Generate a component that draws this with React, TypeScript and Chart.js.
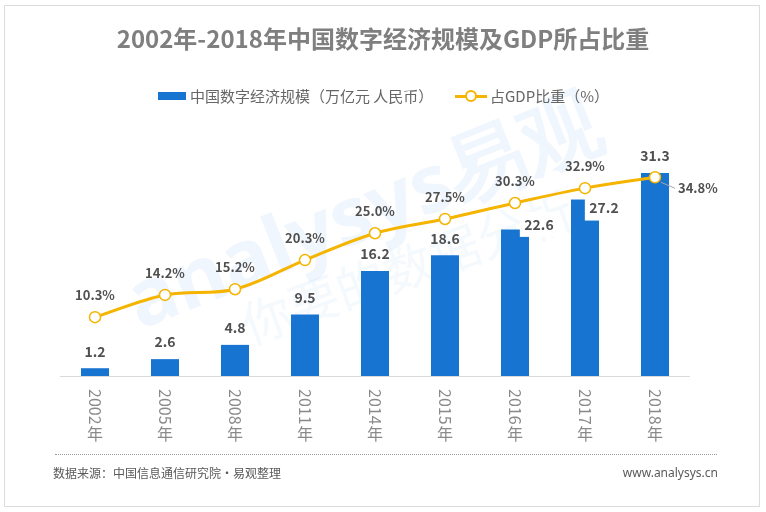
import React, { useEffect, useRef } from "react";
import { Chart, registerables } from "chart.js";

Chart.register(...registerables);

const categories = ["2002年", "2005年", "2008年", "2011年", "2014年", "2015年", "2016年", "2017年", "2018年"];
const digitalEconomy = [1.2, 2.6, 4.8, 9.5, 16.2, 18.6, 22.6, 27.2, 31.3];
const gdpShare = [10.3, 14.2, 15.2, 20.3, 25.0, 27.5, 30.3, 32.9, 34.8];

const barSeriesName = "中国数字经济规模（万亿元 人民币）";
const lineSeriesName = "占GDP比重（%）";
const titleText = "2002年-2018年中国数字经济规模及GDP所占比重";
const sourceText = "数据来源：中国信息通信研究院·易观整理";
const siteText = "www.analysys.cn";

const FONT = '"Noto Sans CJK SC", "Noto Sans", sans-serif';
const BAR_COLOR = "#1874D1";
const LINE_COLOR = "#F5B400";
const LABEL_COLOR = "#505050";

// label offsets for bars whose labels sit beside the bar top (white box)
const barLabelShift: Record<number, { dx: number; dy: number }> = {
  6: { dx: 24, dy: -5 },
  7: { dx: 19, dy: 8.5 },
};

const customPlugin = {
  id: "customDraw",
  beforeDatasetsDraw(chart: any) {
    const ctx = chart.ctx as CanvasRenderingContext2D;
    const area = chart.chartArea;
    // watermark
    ctx.save();
    ctx.translate(140, 330);
    ctx.rotate(-0.38);
    ctx.font = `bold 80px "Noto Sans", sans-serif`;
    ctx.fillStyle = "rgba(40,130,220,0.07)";
    ctx.textBaseline = "alphabetic";
    ctx.fillText("analysys易观", 0, 0);
    ctx.restore();
    ctx.save();
    ctx.translate(250, 345);
    ctx.rotate(-0.35);
    ctx.font = `50px ${FONT}`;
    ctx.fillStyle = "rgba(40,130,220,0.05)";
    ctx.fillText("你要的数据分析", 0, 0);
    ctx.restore();
    // baseline axis
    ctx.save();
    ctx.strokeStyle = "#d9d9d9";
    ctx.lineWidth = 1;
    ctx.beginPath();
    ctx.moveTo(area.left, Math.round(area.bottom) + 0.5);
    ctx.lineTo(area.right, Math.round(area.bottom) + 0.5);
    ctx.stroke();
    ctx.restore();
  },
  afterDatasetDraw(chart: any, args: any) {
    if (args.index !== 0) return;
    const ctx = chart.ctx as CanvasRenderingContext2D;
    const meta = chart.getDatasetMeta(0);
    ctx.save();
    ctx.font = `bold 14px ${FONT}`;
    ctx.textAlign = "center";
    ctx.textBaseline = "middle";
    meta.data.forEach((bar: any, i: number) => {
      const text = digitalEconomy[i].toFixed(1);
      const shift = barLabelShift[i];
      if (shift) {
        const cx = bar.x + shift.dx;
        const cy = bar.y + shift.dy;
        const w = ctx.measureText(text).width;
        ctx.fillStyle = "#ffffff";
        ctx.fillRect(cx - w / 2 - 4.5, cy - 12.5, w + 9, 25);
        ctx.fillStyle = LABEL_COLOR;
        ctx.fillText(text, cx, cy);
      } else {
        ctx.fillStyle = LABEL_COLOR;
        ctx.fillText(text, bar.x, bar.y - 17);
      }
    });
    ctx.restore();
  },
  afterDatasetsDraw(chart: any) {
    const ctx = chart.ctx as CanvasRenderingContext2D;
    const meta = chart.getDatasetMeta(1);
    const n = meta.data.length;
    ctx.save();
    ctx.font = `bold 13px ${FONT}`;
    ctx.textBaseline = "middle";
    meta.data.forEach((pt: any, i: number) => {
      const text = gdpShare[i].toFixed(1) + "%";
      ctx.fillStyle = LABEL_COLOR;
      if (i === n - 1) {
        ctx.strokeStyle = "#a6a6a6";
        ctx.lineWidth = 1;
        ctx.beginPath();
        ctx.moveTo(pt.x + 6, pt.y + 5);
        ctx.lineTo(pt.x + 20, pt.y + 11);
        ctx.stroke();
        ctx.textAlign = "left";
        ctx.fillText(text, pt.x + 23, pt.y + 11);
      } else {
        ctx.textAlign = "center";
        ctx.fillText(text, pt.x, pt.y - 22);
      }
    });
    ctx.restore();

    // x labels: digits rotated clockwise, 年 upright below
    const xScale = chart.scales.x;
    ctx.save();
    ctx.fillStyle = "#8a8a8a";
    ctx.font = `16px ${FONT}`;
    categories.forEach((label, i) => {
      const x = xScale.getPixelForValue(i);
      const digits = label.slice(0, -1);
      const suffix = label.slice(-1);
      ctx.save();
      ctx.translate(x, 389);
      ctx.rotate(Math.PI / 2);
      ctx.textAlign = "left";
      ctx.textBaseline = "middle";
      ctx.fillText(digits, 0, 0);
      const w = ctx.measureText(digits).width;
      ctx.restore();
      ctx.textAlign = "center";
      ctx.textBaseline = "top";
      ctx.fillText(suffix, x, 389 + w + 1);
    });
    ctx.restore();
  },
};

export default function App() {
  const ref = useRef<HTMLCanvasElement | null>(null);

  useEffect(() => {
    if (!ref.current) return;
    const chart = new Chart(ref.current, {
      type: "bar",
      data: {
        labels: categories,
        datasets: [
          {
            type: "bar",
            label: barSeriesName,
            data: digitalEconomy,
            backgroundColor: BAR_COLOR,
            barPercentage: 0.8,
            categoryPercentage: 0.5,
            yAxisID: "y",
            order: 2,
          } as any,
          {
            type: "line",
            label: lineSeriesName,
            data: gdpShare,
            yAxisID: "y1",
            borderColor: LINE_COLOR,
            borderWidth: 3,
            tension: 0.35,
            pointRadius: 5.5,
            pointBorderWidth: 1.5,
            pointBackgroundColor: "#ffffff",
            pointBorderColor: LINE_COLOR,
            order: 1,
          } as any,
        ],
      },
      options: {
        responsive: false,
        animation: false,
        layout: { padding: { left: 60, right: 76, top: 150, bottom: 136 } },
        scales: {
          x: { display: false, offset: true },
          y: { display: false, min: 0, max: 34.84 },
          y1: { display: false, min: 0, max: 39.58 },
        },
        plugins: {
          legend: { display: false },
          tooltip: { enabled: false },
          title: { display: false },
        },
      },
      plugins: [customPlugin],
    });
    return () => chart.destroy();
  }, []);

  return (
    <div
      style={{
        position: "fixed",
        left: 0,
        top: 0,
        width: 766,
        height: 512,
        background: "#ffffff",
        fontFamily: FONT,
        overflow: "hidden",
      }}
    >
      <div
        style={{
          position: "absolute",
          left: 4,
          top: 5,
          width: 756,
          height: 502,
          boxSizing: "border-box",
          border: "1px solid #dcdcdc",
        }}
      />
      <canvas ref={ref} width={766} height={512} style={{ position: "absolute", left: 0, top: 0, width: 766, height: 512 }} />
      <div
        style={{
          position: "absolute",
          left: 0,
          top: 22,
          width: 766,
          textAlign: "center",
          fontSize: 24,
          fontWeight: "bold",
          lineHeight: "32px",
          color: "#7f7f7f",
          whiteSpace: "nowrap",
        }}
      >
        {titleText}
      </div>
      <div style={{ position: "absolute", left: 158, top: 92, width: 28, height: 8, background: BAR_COLOR }} />
      <div style={{ position: "absolute", left: 190, top: 86, fontSize: 15, lineHeight: "20px", color: "#666666", whiteSpace: "nowrap" }}>
        {barSeriesName}
      </div>
      <div style={{ position: "absolute", left: 455, top: 94.5, width: 32, height: 3, background: LINE_COLOR }} />
      <div
        style={{
          position: "absolute",
          left: 465,
          top: 90,
          width: 12,
          height: 12,
          boxSizing: "border-box",
          borderRadius: "50%",
          border: `2px solid ${LINE_COLOR}`,
          background: "#ffffff",
        }}
      />
      <div style={{ position: "absolute", left: 490, top: 86, fontSize: 15, lineHeight: "20px", color: "#666666", whiteSpace: "nowrap" }}>
        {lineSeriesName}
      </div>
      <div style={{ position: "absolute", left: 55, top: 454, width: 662, height: 0, borderTop: "1px dotted #9a9a9a" }} />
      <div style={{ position: "absolute", left: 53, top: 465, fontSize: 12, lineHeight: "16px", color: "#595959", whiteSpace: "nowrap" }}>
        {sourceText}
      </div>
      <div
        style={{
          position: "absolute",
          right: 766 - 718,
          top: 465,
          fontSize: 12,
          lineHeight: "16px",
          color: "#595959",
          whiteSpace: "nowrap",
          fontFamily: '"Noto Sans", sans-serif',
        }}
      >
        {siteText}
      </div>
    </div>
  );
}
